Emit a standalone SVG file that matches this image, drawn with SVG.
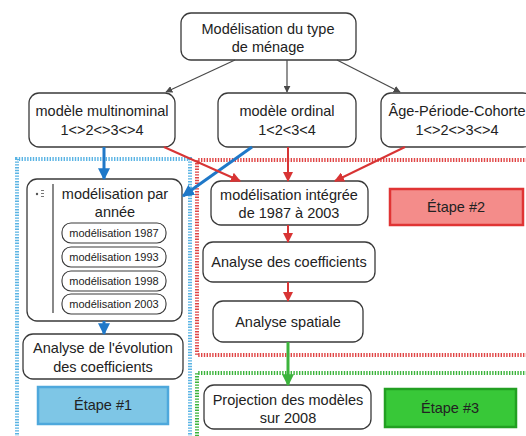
<svg xmlns="http://www.w3.org/2000/svg" width="526" height="436" viewBox="0 0 526 436">
<defs>
<style>
.n{fill:#fff;stroke:#3a3a3a;stroke-width:1.3}
.p{fill:#fff;stroke:#3a3a3a;stroke-width:1.1}
.t{font-family:"Liberation Sans",Arial,sans-serif;font-size:14.5px;fill:#222;text-anchor:middle}
.s{font-family:"Liberation Sans",Arial,sans-serif;font-size:11px;fill:#222;text-anchor:middle}
.reg{fill:none;stroke-width:4;stroke-dasharray:1.4 1.4}
.gray{stroke:#4a4a4a;stroke-width:1.2;fill:none}
.blue{stroke:#1f78c8;stroke-width:3;fill:none}
.red{stroke:#d83434;stroke-width:2;fill:none}
.green{stroke:#3cb43c;stroke-width:3;fill:none}
</style>
<marker id="ag" viewBox="0 0 10 10" refX="9" refY="5" markerWidth="7" markerHeight="7" markerUnits="userSpaceOnUse" orient="auto"><path d="M0,0L10,5L0,10z" fill="#4a4a4a"/></marker>
<marker id="ab" viewBox="0 0 10 10" refX="9" refY="5" markerWidth="4" markerHeight="4" orient="auto"><path d="M0,0L10,5L0,10z" fill="#1f78c8"/></marker>
<marker id="ar" viewBox="0 0 10 10" refX="9" refY="5" markerWidth="5" markerHeight="5" orient="auto"><path d="M0,0L10,5L0,10z" fill="#d83434"/></marker>
<marker id="agr" viewBox="0 0 10 10" refX="9" refY="5" markerWidth="4" markerHeight="4" orient="auto"><path d="M0,0L10,5L0,10z" fill="#3cb43c"/></marker>
</defs>
<rect width="526" height="436" fill="#fff"/>
<g id="regions">
<path class="reg" stroke="#5ab4e4" d="M17,440V159H190V440"/>
<path class="reg" stroke="#e04646" d="M530,160H197V355H530"/>
<path class="reg" stroke="#3cb43c" d="M530,373H197V440"/>
</g>
<g id="n-top"><rect class="n" x="181" y="13" width="175" height="47" rx="10"/><text class="t" x="268" y="34">Modélisation du type</text><text class="t" x="268" y="52">de ménage</text></g>
<g id="n-multi"><rect class="n" x="29" y="93" width="146" height="54" rx="10"/><text class="t" x="102" y="116">modèle multinominal</text><text class="t" x="102" y="135">1&lt;&gt;2&lt;&gt;3&lt;&gt;4</text></g>
<g id="n-ord"><rect class="n" x="218" y="93" width="138" height="54" rx="10"/><text class="t" x="287" y="116">modèle ordinal</text><text class="t" x="287" y="135">1&lt;2&lt;3&lt;4</text></g>
<g id="n-apc"><rect class="n" x="381" y="93" width="152" height="54" rx="10"/><text class="t" x="457" y="116">Âge-Période-Cohorte</text><text class="t" x="457" y="135">1&lt;&gt;2&lt;&gt;3&lt;&gt;4</text></g>
<g id="n-annee">
<rect class="n" x="27" y="179" width="155" height="142" rx="10"/>
<line x1="53" y1="184" x2="53" y2="313" stroke="#3a3a3a" stroke-width="1.2"/>
<circle cx="37" cy="194" r="1.2" fill="#555"/>
<rect x="41" y="190" width="3" height="1" fill="#777"/><rect x="41" y="193" width="3" height="1" fill="#777"/><rect x="41" y="196" width="3" height="1" fill="#777"/>
<text class="t" x="115" y="199">modélisation par</text><text class="t" x="115" y="217">année</text>
<rect class="p" x="62" y="223" width="104" height="20" rx="9"/><text class="s" x="114" y="237">modélisation 1987</text>
<rect class="p" x="62" y="247" width="104" height="20" rx="9"/><text class="s" x="114" y="261">modélisation 1993</text>
<rect class="p" x="62" y="271" width="104" height="20" rx="9"/><text class="s" x="114" y="285">modélisation 1998</text>
<rect class="p" x="62" y="294" width="104" height="20" rx="9"/><text class="s" x="114" y="308">modélisation 2003</text>
</g>
<g id="n-evol"><rect class="n" x="23" y="334" width="160" height="45" rx="10"/><text class="t" x="103" y="353">Analyse de l'évolution</text><text class="t" x="103" y="372">des coefficients</text></g>
<g id="n-e1"><rect x="38" y="387" width="130" height="37" fill="#7ec6e6" stroke="#4ea8dc" stroke-width="2.5"/><text class="t" x="103" y="410">Étape #1</text></g>
<g id="n-integ"><rect class="n" x="211" y="181" width="157" height="44" rx="10"/><text class="t" x="289" y="200">modélisation  intégrée</text><text class="t" x="289" y="218">de 1987 à 2003</text></g>
<g id="n-e2"><rect x="390" y="189" width="133" height="36" fill="#f48c8a" stroke="#e03434" stroke-width="2.5"/><text class="t" x="456" y="212">Étape #2</text></g>
<g id="n-coef"><rect class="n" x="203" y="242" width="172" height="40" rx="10"/><text class="t" x="289" y="267">Analyse des coefficients</text></g>
<g id="n-spat"><rect class="n" x="213" y="301" width="150" height="41" rx="10"/><text class="t" x="288" y="327">Analyse spatiale</text></g>
<g id="n-proj"><rect class="n" x="204" y="385" width="167" height="44" rx="10"/><text class="t" x="288" y="405">Projection des modèles</text><text class="t" x="288" y="423">sur 2008</text></g>
<g id="n-e3"><rect x="385" y="389" width="131" height="38" fill="#38c838" stroke="#22a022" stroke-width="2.5"/><text class="t" x="450" y="413">Étape #3</text></g>
<g id="connectors">
<line class="gray" x1="235" y1="60" x2="166" y2="92" marker-end="url(#ag)"/>
<line class="gray" x1="287" y1="60" x2="287" y2="92" marker-end="url(#ag)"/>
<line class="gray" x1="337" y1="60" x2="400" y2="92" marker-end="url(#ag)"/>
<line class="blue" x1="104" y1="147" x2="104" y2="179" marker-end="url(#ab)"/>
<line class="blue" x1="252" y1="147" x2="183" y2="196" marker-end="url(#ab)"/>
<line class="blue" x1="104" y1="321" x2="104" y2="334" marker-end="url(#ab)"/>
<line class="red" x1="164" y1="147" x2="240" y2="181" marker-end="url(#ar)"/>
<line class="red" x1="288" y1="147" x2="288" y2="181" marker-end="url(#ar)"/>
<line class="red" x1="405" y1="147" x2="335" y2="181" marker-end="url(#ar)"/>
<line class="red" x1="288" y1="225" x2="288" y2="242" marker-end="url(#ar)"/>
<line class="red" x1="288" y1="282" x2="288" y2="301" marker-end="url(#ar)"/>
<line class="green" x1="288" y1="342" x2="288" y2="385" marker-end="url(#agr)"/>
</g>
</svg>
